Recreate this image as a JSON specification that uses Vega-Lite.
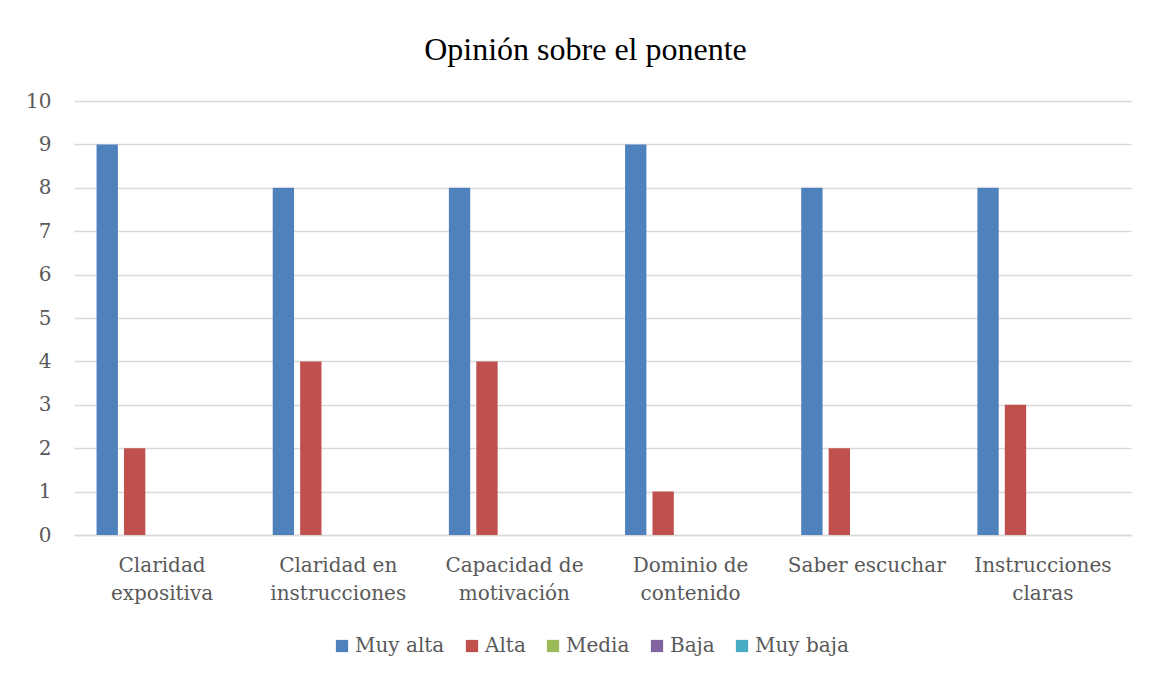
{
  "$schema": "https://vega.github.io/schema/vega-lite/v6.json",
  "autosize": "none",
  "width": 1057,
  "height": 434,
  "padding": {"left": 74, "top": 101, "right": 18, "bottom": 142},
  "background": "white",
  "title": {
    "text": "Opinión sobre el ponente",
    "font": "Liberation Serif",
    "fontSize": 32,
    "fontWeight": "normal",
    "color": "#000000",
    "anchor": "middle",
    "dx": -17,
    "offset": 24
  },
  "data": {
    "values": [
      {"aspecto": "Claridad expositiva", "nivel": "Muy alta", "valor": 9},
      {"aspecto": "Claridad expositiva", "nivel": "Alta", "valor": 2},
      {"aspecto": "Claridad expositiva", "nivel": "Media", "valor": 0},
      {"aspecto": "Claridad expositiva", "nivel": "Baja", "valor": 0},
      {"aspecto": "Claridad expositiva", "nivel": "Muy baja", "valor": 0},
      {"aspecto": "Claridad en instrucciones", "nivel": "Muy alta", "valor": 8},
      {"aspecto": "Claridad en instrucciones", "nivel": "Alta", "valor": 4},
      {"aspecto": "Claridad en instrucciones", "nivel": "Media", "valor": 0},
      {"aspecto": "Claridad en instrucciones", "nivel": "Baja", "valor": 0},
      {"aspecto": "Claridad en instrucciones", "nivel": "Muy baja", "valor": 0},
      {"aspecto": "Capacidad de motivación", "nivel": "Muy alta", "valor": 8},
      {"aspecto": "Capacidad de motivación", "nivel": "Alta", "valor": 4},
      {"aspecto": "Capacidad de motivación", "nivel": "Media", "valor": 0},
      {"aspecto": "Capacidad de motivación", "nivel": "Baja", "valor": 0},
      {"aspecto": "Capacidad de motivación", "nivel": "Muy baja", "valor": 0},
      {"aspecto": "Dominio de contenido", "nivel": "Muy alta", "valor": 9},
      {"aspecto": "Dominio de contenido", "nivel": "Alta", "valor": 1},
      {"aspecto": "Dominio de contenido", "nivel": "Media", "valor": 0},
      {"aspecto": "Dominio de contenido", "nivel": "Baja", "valor": 0},
      {"aspecto": "Dominio de contenido", "nivel": "Muy baja", "valor": 0},
      {"aspecto": "Saber escuchar", "nivel": "Muy alta", "valor": 8},
      {"aspecto": "Saber escuchar", "nivel": "Alta", "valor": 2},
      {"aspecto": "Saber escuchar", "nivel": "Media", "valor": 0},
      {"aspecto": "Saber escuchar", "nivel": "Baja", "valor": 0},
      {"aspecto": "Saber escuchar", "nivel": "Muy baja", "valor": 0},
      {"aspecto": "Instrucciones claras", "nivel": "Muy alta", "valor": 8},
      {"aspecto": "Instrucciones claras", "nivel": "Alta", "valor": 3},
      {"aspecto": "Instrucciones claras", "nivel": "Media", "valor": 0},
      {"aspecto": "Instrucciones claras", "nivel": "Baja", "valor": 0},
      {"aspecto": "Instrucciones claras", "nivel": "Muy baja", "valor": 0}
    ]
  },
  "mark": {"type": "bar"},
  "encoding": {
    "x": {
      "field": "aspecto",
      "type": "nominal",
      "sort": null,
      "scale": {"paddingInner": 0.256, "paddingOuter": 0.128},
      "axis": {
        "title": null,
        "labelAngle": 0,
        "labelFont": "DejaVu Serif",
        "labelFontSize": 20,
        "labelColor": "#595959",
        "labelLineHeight": 28,
        "labelPadding": 20,
        "ticks": false,
        "domainColor": "#d9d9d9",
        "domainWidth": 1.3,
        "labelExpr": "datum.label == 'Claridad expositiva' ? ['Claridad', 'expositiva'] : datum.label == 'Claridad en instrucciones' ? ['Claridad en', 'instrucciones'] : datum.label == 'Capacidad de motivación' ? ['Capacidad de', 'motivación'] : datum.label == 'Dominio de contenido' ? ['Dominio de', 'contenido'] : datum.label == 'Instrucciones claras' ? ['Instrucciones', 'claras'] : datum.label"
      }
    },
    "xOffset": {
      "field": "nivel",
      "type": "nominal",
      "sort": ["Muy alta", "Alta", "Media", "Baja", "Muy baja"],
      "scale": {"paddingInner": 0.222, "paddingOuter": 0}
    },
    "y": {
      "field": "valor",
      "type": "quantitative",
      "scale": {"domain": [0, 10], "nice": false},
      "axis": {
        "title": null,
        "values": [0, 1, 2, 3, 4, 5, 6, 7, 8, 9, 10],
        "labelFont": "DejaVu Serif",
        "labelFontSize": 20,
        "labelColor": "#595959",
        "labelPadding": 23,
        "ticks": false,
        "domain": false,
        "gridColor": "#d9d9d9",
        "gridWidth": 1.3
      }
    },
    "color": {
      "field": "nivel",
      "type": "nominal",
      "sort": ["Muy alta", "Alta", "Media", "Baja", "Muy baja"],
      "scale": {
        "domain": ["Muy alta", "Alta", "Media", "Baja", "Muy baja"],
        "range": ["#4F81BD", "#C0504D", "#9BBB59", "#8064A2", "#4BACC6"]
      },
      "legend": {
        "title": null,
        "orient": "none",
        "direction": "horizontal",
        "legendX": 258,
        "legendY": 535,
        "symbolType": "square",
        "symbolSize": 150,
        "symbolStrokeWidth": 0,
        "labelFont": "DejaVu Serif",
        "labelFontSize": 20,
        "labelColor": "#595959",
        "labelOffset": 3,
        "columnPadding": 17
      }
    }
  },
  "config": {
    "view": {"stroke": null}
  }
}
